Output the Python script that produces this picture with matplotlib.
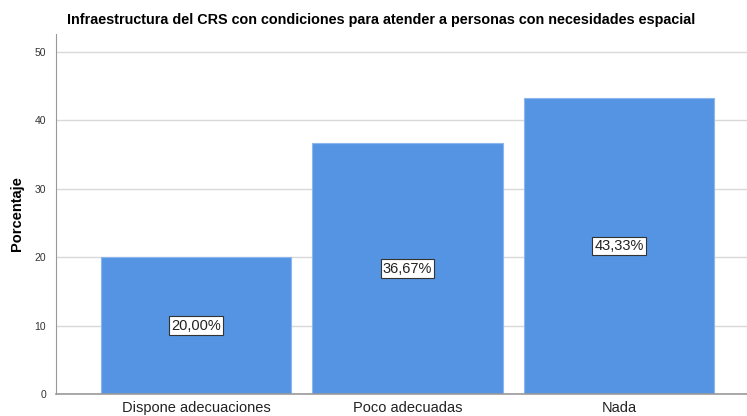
import matplotlib
matplotlib.use("Agg")
import matplotlib.pyplot as plt

categories = ["Dispone adecuaciones", "Poco adecuadas", "Nada"]
percents = [20.00, 36.67, 43.33]
labels = ["20,00%", "36,67%", "43,33%"]
yticks = [0, 10, 20, 30, 40, 50]

plt.rcParams['font.family'] = ['Liberation Sans', 'DejaVu Sans']

fig = plt.figure(figsize=(7.47, 4.16), dpi=100)
ax = fig.add_axes([0.075, 0.053, 0.925, 0.865])

x = range(len(categories))
ax.bar(x, percents, width=0.9, color='#5594E3', edgecolor='#8DB6EC', linewidth=0.8, zorder=2)

# value labels in the middle of each bar
for i, (p, lab) in enumerate(zip(percents, labels)):
    ax.text(i, p / 2, lab, ha='center', va='center', fontsize=10.5, color='#222222', zorder=3,
            bbox=dict(boxstyle='square,pad=0.15', fc='white', ec='#333333', lw=0.8))

ax.set_xlim(-0.662, 2.605)
ax.set_ylim(0, 52.6)
ax.set_yticks(yticks)
ax.set_yticklabels([str(t) for t in yticks], fontsize=7.5, color='#333333')
ax.set_xticks(list(x))
ax.set_xticklabels(categories, fontsize=10.5, color='#222222')
ax.tick_params(axis='both', length=0)
ax.tick_params(axis='x', pad=5)
ax.tick_params(axis='y', pad=7)

ax.yaxis.grid(True, color='#D9D9D9', lw=1, zorder=0)
ax.set_axisbelow(True)
for s in ['top', 'right']:
    ax.spines[s].set_visible(False)
ax.spines['left'].set_color('#999999')
ax.spines['bottom'].set_color('#999999')
ax.spines['bottom'].set_linewidth(1.2)

ax.set_ylabel('Porcentaje', fontsize=10.5, fontweight='bold', labelpad=8)
fig.text(0.51, 0.952, 'Infraestructura del CRS con condiciones para atender a personas con necesidades espacial',
         ha='center', va='center', fontsize=10.4, fontweight='bold')

fig.savefig('out.png', dpi=100)
